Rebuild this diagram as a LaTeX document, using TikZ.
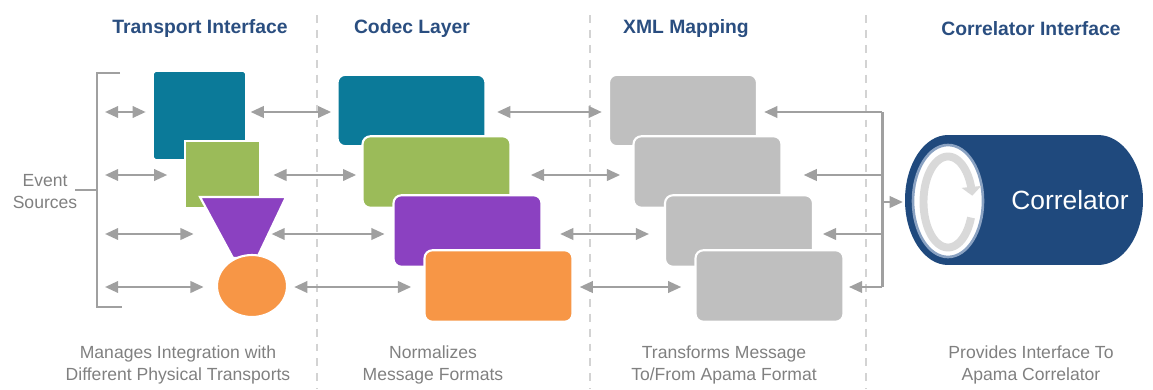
\documentclass[tikz,border=0pt]{standalone}
\usepackage{fontspec}
\setmainfont{Liberation Sans}
\usetikzlibrary{arrows.meta,shapes.geometric}

\definecolor{teal1}{HTML}{0B7A99}
\definecolor{green1}{HTML}{9BBB59}
\definecolor{purple1}{HTML}{8B41C1}
\definecolor{orange1}{HTML}{F79646}
\definecolor{boxgray}{HTML}{BFBFBF}
\definecolor{arrowgray}{HTML}{A0A0A0}
\definecolor{linegray}{HTML}{D3D3D3}
\definecolor{ringgray}{HTML}{D9D9D9}
\definecolor{faceedge}{HTML}{8AA2C2}
\definecolor{navy1}{HTML}{1F497D}
\definecolor{title1}{HTML}{2A4E80}
\definecolor{text1}{HTML}{808080}

\tikzset{
  layertitle/.style={text=title1, font=\fontsize{11}{13}\selectfont\bfseries},
  layernote/.style={text=text1, align=center, font=\fontsize{10}{13}\selectfont},
  block/.style={draw=white, line width=1.2pt, rounded corners=4.5pt, minimum width=2.96cm, minimum height=1.43cm, inner sep=0pt},
  biarrow/.style={draw=arrowgray, line width=1.4pt, {Triangle[length=7.5pt,width=6.5pt]}-{Triangle[length=7.5pt,width=6.5pt]}},
  onearrow/.style={draw=arrowgray, line width=1.4pt, -{Triangle[length=7.5pt,width=6.5pt]}},
  bracket/.style={draw=arrowgray, line width=1.7pt},
  divider/.style={draw=linegray, line width=1pt, dash pattern=on 4.5pt off 4pt},
  ringarrow/.style={draw=ringgray, line width=4.5pt, -{Triangle[length=5pt,width=11pt]}}
}

\begin{document}
\begin{tikzpicture}[x=0.02cm, y=-0.02cm]
    \useasboundingbox (0,0) rectangle (1153,389);

    % column dividers
    \foreach \x in {317,590,866}
        \draw[divider] (\x,15) -- (\x,389);

    % headings and notes
    \node (hTrans) at (200,29) [layertitle] {Transport Interface};
    \node (hCodec) at (412,29) [layertitle] {Codec Layer};
    \node (hXml) at (686,29) [layertitle] {XML Mapping};
    \node (hCorr) at (1031,29) [layertitle] {Correlator Interface};

    \node (nTrans) at (178,365) [layernote] {Manages Integration with\\Different Physical Transports};
    \node (nCodec) at (433,365) [layernote] {Normalizes\\Message Formats};
    \node (nXml) at (724,365) [layernote] {Transforms Message\\To/From Apama Format};
    \node (nCorr) at (1031,365) [layernote] {Provides Interface To\\Apama Correlator};

    \node (src) at (45,192) [layernote, font=\fontsize{10}{12.5}\selectfont] {Event\\Sources};

    % left bracket
    \coordinate (lb1) at (97,73);
    \coordinate (lb2) at (97,307);
    \draw[bracket] (120,73) -- (lb1) -- (lb2) -- (122,307) (75,190) -- (97,190);

    \coordinate (r1) at (105,112);
    \coordinate (r2) at (105,175);
    \coordinate (r3) at (105,234);
    \coordinate (r4) at (105,287);

    % transports
    \node (tA) at (199.5,115.5) [fill=teal1, rounded corners=1pt, minimum width=1.82cm, minimum height=1.74cm, inner sep=0pt] {};
    \node (tB) at (222.5,174.5) [fill=green1, draw=white, line width=1.2pt, minimum width=1.5cm, minimum height=1.34cm, inner sep=0pt] {};
    \filldraw[fill=purple1, draw=white, line width=1.2pt] (200,197) -- (286,197) -- (257,258) -- (233,258) -- cycle;
    \coordinate (tCw) at (220,234);
    \coordinate (tCe) at (268,234);
    \node (tD) at (252,286) [ellipse, fill=orange1, draw=white, line width=1.2pt, minimum width=1.4cm, minimum height=1.24cm, inner sep=0pt] {};

    % codecs
    \node (cA) at (411.5,110.5) [block, fill=teal1] {};
    \node (cB) at (436.5,172) [block, fill=green1] {};
    \node (cC) at (467.5,231) [block, fill=purple1] {};
    \node (cD) at (498.5,286) [block, fill=orange1] {};

    % xml mapping
    \node (xA) at (683,110.5) [block, fill=boxgray] {};
    \node (xB) at (707.5,172) [block, fill=boxgray] {};
    \node (xC) at (739,231) [block, fill=boxgray] {};
    \node (xD) at (769.5,286) [block, fill=boxgray] {};

    % correlator
    \fill[navy1] (948,135) rectangle (1098,265);
    \node (corrEnd) at (1098,200) [ellipse, fill=navy1, minimum width=1.8cm, minimum height=2.6cm, inner sep=0pt] {};
    \node (face) at (948,200) [ellipse, fill=navy1, minimum width=1.72cm, minimum height=2.6cm, inner sep=0pt] {};
    \node (faceIn) at (948,201) [ellipse, fill=white, draw=faceedge, line width=1.5pt, minimum width=1.4cm, minimum height=2.24cm, inner sep=0pt] {};
    \draw[ringarrow] plot[variable=\t, domain=-20:-352, samples=80] ({948+24.5*cos(\t)},{202-45.5*sin(\t)});
    \node (corr) at (1070,200) [text=white, font=\fontsize{15}{18}\selectfont] {Correlator};

    % event sources <-> transports
    \draw[biarrow, shorten >=4.5pt] (r1) -- (tA.west |- r1);
    \draw[biarrow, shorten >=9.5pt] (r2) -- (tB.west |- r2);
    \draw[biarrow, shorten >=15pt] (r3) -- (tCw);
    \draw[biarrow, shorten >=7pt] (r4) -- (tD.west |- r4);

    % transports <-> codecs
    \draw[biarrow, shorten <=3pt, shorten >=3pt] (tA.east |- r1) -- (cA.west |- r1);
    \draw[biarrow, shorten <=7pt, shorten >=3pt] (tB.east |- r2) -- (cB.west |- r2);
    \draw[biarrow, shorten <=2pt, shorten >=4.5pt] (tCe) -- (cC.west |- r3);
    \draw[biarrow, shorten <=3.5pt, shorten >=7pt] (tD.east |- r4) -- (cD.west |- r4);

    % codecs <-> xml
    \draw[biarrow, shorten <=6pt, shorten >=3.5pt] (cA.east |- r1) -- (xA.west |- r1);
    \draw[biarrow, shorten <=11pt, shorten >=7pt] (cB.east |- r2) -- (xB.west |- r2);
    \draw[biarrow, shorten <=10pt, shorten >=8.5pt] (cC.east |- r3) -- (xC.west |- r3);
    \draw[biarrow, shorten <=3.5pt, shorten >=7.5pt] (cD.east |- r4) -- (xD.west |- r4);

    % correlator bracket
    \coordinate (rb1) at (882,112);
    \coordinate (rb2) at (882,175);
    \coordinate (rb3) at (882,234);
    \coordinate (rb4) at (882,287);
    \coordinate (rbm) at (882,202);
    \draw[bracket] (rb1) -- (rb4);
    \draw[onearrow, shorten >=3.5pt] (rb1) -- (xA.east |- rb1);
    \draw[onearrow, shorten >=12pt] (rb2) -- (xB.east |- rb2);
    \draw[onearrow, shorten >=5pt] (rb3) -- (xC.east |- rb3);
    \draw[onearrow, shorten >=2.5pt] (rb4) -- (xD.east |- rb4);
    \draw[onearrow, shorten >=1pt] (rbm) -- (face.west |- rbm);
\end{tikzpicture}
\end{document}
